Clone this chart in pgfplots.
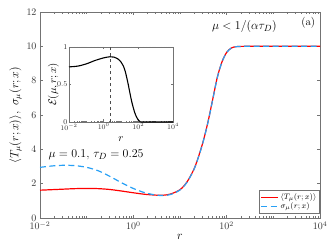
\documentclass[border=0pt]{standalone}
\usepackage{pgfplots}
\pgfplotsset{compat=1.18}
\usepackage{amsmath}
\definecolor{myred}{rgb}{1,0,0}
\definecolor{myblue}{RGB}{40,160,245}
\definecolor{axgray}{gray}{0.45}
\begin{document}
\begin{tikzpicture}
\useasboundingbox (-40bp,-31bp) rectangle (292bp,218bp);
\begin{axis}[
  at={(0,0)}, anchor=south west,
  width=280bp, height=206bp, scale only axis,
  xmode=log, xmin=1e-2, xmax=1e4, ymin=0, ymax=12,
  ytick={0,2,4,6,8,10,12},
  xtick={1e-2,1,1e2,1e4},
  minor xtick={0.02,0.03,0.04,0.05,0.06,0.07,0.08,0.09,0.1,0.2,0.3,0.4,0.5,0.6,0.7,0.8,0.9,2,3,4,5,6,7,8,9,10,20,30,40,50,60,70,80,90,200,300,400,500,600,700,800,900,1000,2000,3000,4000,5000,6000,7000,8000,9000},
  tick align=inside,
  major tick length=3bp, minor tick length=1.6bp,
  axis line style={axgray},
  every tick/.style={axgray},
  tick label style={font=\fontsize{10}{12}\selectfont, text=black!80},
  xlabel={$r$}, ylabel={$\langle T_\mu(r;x)\rangle,\ \sigma_\mu(r;x)$},
  label style={font=\fontsize{12}{14}\selectfont},
  xlabel style={yshift=2bp},
  ylabel style={yshift=-2bp},
  legend style={at={(rel axis cs:0.999,0.02)}, anchor=south east, font=\fontsize{8}{10}\selectfont, draw=axgray, inner sep=1.2bp, row sep=-2bp},
  legend cell align=left,
]
\addplot[color=myred, line width=1.2pt, smooth] coordinates {
(1e-2,1.62) (1.778e-2,1.65) (3.162e-2,1.68) (5.623e-2,1.71) (0.1,1.72) (0.1778,1.71) (0.3162,1.66) (0.5623,1.57) (1,1.47) (1.778,1.38) (3.162,1.33) (4.467,1.33) (6.31,1.40) (10,1.65) (14.13,2.1) (19.95,2.85) (25.12,3.6) (31.62,4.5) (39.81,5.6) (50.12,6.9) (63.1,8.2) (79.43,9.1) (100,9.65) (125.9,9.9) (158.5,9.98) (251.2,10.0) (1000,10) (1e4,10)
};
\addlegendentry{$\langle T_\mu(r;x)\rangle$}
\addplot[color=myblue, line width=1.2pt, dash pattern=on 6bp off 3.5bp, smooth] coordinates {
(1e-2,2.95) (1.778e-2,3.03) (3.162e-2,3.07) (5.623e-2,3.05) (0.1,2.95) (0.1778,2.75) (0.3162,2.42) (0.5623,2.05) (1,1.72) (1.778,1.47) (3.162,1.33) (4.467,1.31) (6.31,1.37) (10,1.63) (14.13,2.08) (19.95,2.83) (25.12,3.58) (31.62,4.48) (39.81,5.58) (50.12,6.88) (63.1,8.18) (79.43,9.09) (100,9.64) (125.9,9.9) (158.5,9.98) (251.2,10.0) (1000,10) (1e4,10)
};
\addlegendentry{$\sigma_\mu(r;x)$}
\node[font=\fontsize{13}{15}\selectfont] at (rel axis cs:0.73,0.93) {$\mu<1/(\alpha\tau_D)$};
\node[font=\fontsize{11}{13}\selectfont, anchor=north east] at (rel axis cs:0.995,0.99) {(a)};
\node[font=\fontsize{13}{15}\selectfont] at (rel axis cs:0.2,0.306) {$\mu=0.1,\,\tau_D=0.25$};
\end{axis}
\begin{axis}[
  at={(29bp,96bp)}, anchor=south west,
  width=104bp, height=75bp, scale only axis,
  xmode=log, xmin=1e-2, xmax=1e4, ymin=0, ymax=1,
  ytick={0,0.5,1}, yticklabels={0,0.5,1},
  xtick={1e-2,1,1e2,1e4},
  minor xtick={0.02,0.03,0.04,0.05,0.06,0.07,0.08,0.09,0.1,0.2,0.3,0.4,0.5,0.6,0.7,0.8,0.9,2,3,4,5,6,7,8,9,10,20,30,40,50,60,70,80,90,200,300,400,500,600,700,800,900,1000,2000,3000,4000,5000,6000,7000,8000,9000},
  tick align=inside,
  major tick length=2.5bp, minor tick length=1.3bp,
  axis line style={axgray},
  every tick/.style={axgray},
  tick label style={font=\fontsize{7.5}{9}\selectfont, text=black!80},
  yticklabel style={inner sep=1.5bp},
  xticklabel style={inner sep=1.5bp},
  xlabel={$r$},
  label style={font=\fontsize{11}{13}\selectfont},
  xlabel style={yshift=-2bp},
  axis background/.style={fill=white},
  clip=false,
]
\addplot[black, line width=1.1pt, smooth] coordinates {
(1e-2,0.735) (3.162e-2,0.745) (0.1,0.775) (0.3162,0.82) (1,0.855) (2.344,0.87) (3.981,0.865) (6.31,0.845) (10,0.80) (13.49,0.75) (17.78,0.67) (25.12,0.52) (33.11,0.38) (41.69,0.27) (51.29,0.19) (63.1,0.12) (79.43,0.065) (100,0.025) (125.9,0.005) (158.5,0) (1e3,0) (1e4,0)
};
\addplot[black!70, dashed, line width=0.6pt] coordinates {(2.3,0) (2.3,1)};
\node[rotate=90, anchor=south, inner sep=1bp, font=\fontsize{11}{13}\selectfont] at (axis description cs:-0.085,0.5) {$\mathcal{E}(\mu,r;x)$};
\end{axis}
\end{tikzpicture}
\end{document}
